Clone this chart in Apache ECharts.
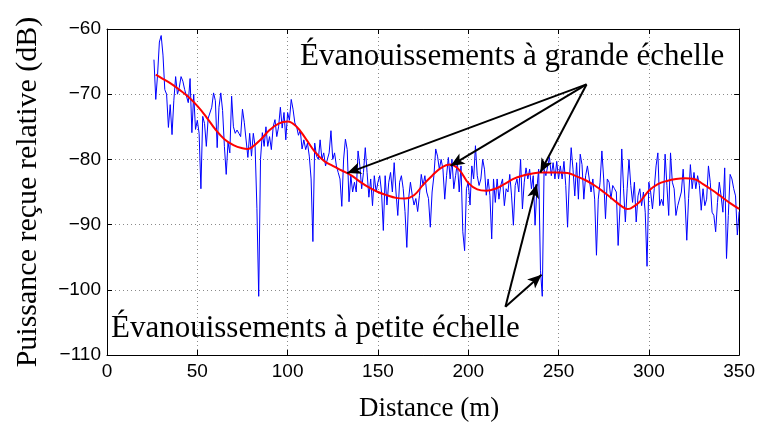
<!DOCTYPE html>
<html><head><meta charset="utf-8">
<script src="https://cdn.jsdelivr.net/npm/echarts@6/dist/echarts.min.js"></script>
<style>html,body{margin:0;padding:0;background:#fff}#c{width:758px;height:427px}</style>
</head><body><div id="c"></div>
<script>
// ---- data ----
const xTicks = [0, 50, 100, 150, 200, 250, 300, 350];
const yTicks = [-110, -100, -90, -80, -70, -60];
const blueStartDistance = 26;   // m, first sample
const blueStepDistance = 1;     // m between samples
const bluePower = [
 -64.7, -70.8, -67, -62, -61, -64, -69.3, -70, -75.1, -71.6,
 -76.2, -71, -67.3, -70, -69, -67.3, -68, -69.3, -69, -71.3,
 -67.6, -75.9, -70, -75.4, -74, -76, -84.5, -73.4, -74.5, -78,
 -73.7, -74, -72, -69.8, -71, -78.2, -72, -69.8, -72.5, -78,
 -82.3, -77.4, -79, -70.3, -75, -76, -75.5, -76, -76.5, -72.3,
 -74.3, -74, -79.7, -76, -79.5, -76, -78, -87.5, -101, -80,
 -75.9, -78, -75, -78, -76.5, -78.5, -75, -73.9, -76.5, -75,
 -72, -75.2, -72.8, -77, -72.8, -74, -70.8, -72.3, -74.4, -75,
 -76.3, -75.5, -78.4, -77, -78.5, -77.5, -79.5, -83, -92.6, -77.5,
 -79.5, -80, -77, -80, -79, -81, -80, -79, -75.6, -80,
 -79, -81, -82, -83, -87.2, -80, -76.9, -78.5, -86.5, -82.5,
 -85, -83.5, -85, -78.7, -81, -84.5, -82, -78.2, -82, -85.8,
 -83, -87.1, -82.5, -85, -83.5, -82.5, -85, -90.9, -82.5, -87,
 -83.5, -82, -85, -80.5, -85, -88.6, -83.5, -82.5, -84.5, -88,
 -93.5, -86, -83.5, -85.5, -87, -86, -88, -85.5, -82.3, -84,
 -82.5, -85, -86, -90.4, -85, -82.5, -78.4, -79.5, -81.5, -80,
 -81.5, -86.1, -82.5, -79.7, -83, -80, -84.5, -82.5, -80.5, -85,
 -81, -91.1, -94, -84.5, -83.5, -87, -81, -83, -77.9, -82.5,
 -84, -83, -80, -81.5, -85.5, -83, -85.5, -92.2, -83, -86.6,
 -83, -86.1, -84, -83, -87.1, -84.5, -85, -82.3, -85.6, -90.1,
 -84, -83, -85, -80, -87.6, -83.5, -81.3, -83, -81.5, -84.5,
 -82.5, -90.1, -84.5, -81.5, -97, -101, -81.5, -82.5, -81, -79.7,
 -82.5, -80.5, -83, -80.3, -83, -81, -83, -80.3, -84, -90.4,
 -83, -78.2, -81.5, -85.6, -80.5, -86.1, -79.2, -80.8, -86.1, -82.5,
 -81, -80.8, -85, -83, -86.1, -94.7, -86.1, -83.5, -78.7, -83,
 -89.1, -83, -83.5, -86.1, -84, -84.5, -85, -93.2, -87.6, -78.4,
 -84.5, -89.6, -84.5, -80, -84, -86.6, -83.5, -89.6, -85.6, -84.5,
 -87.1, -85, -88.1, -96.4, -83.5, -85, -87.6, -84.5, -81, -79,
 -87.1, -86.1, -87.1, -79.2, -84, -88.6, -79, -83.5, -84.5, -88.6,
 -87.1, -87, -85, -81.5, -86.1, -92.4, -86, -80.8, -84.5, -82,
 -84.5, -82.5, -84, -87.8, -84.5, -87.1, -86.1, -81, -83.5, -88.1,
 -88.6, -91.1, -86.6, -83.5, -85.6, -88.1, -81.3, -95.2, -88.6, -82.3,
 -83, -84.5, -85.6, -91.6, -88
];
const redDistance = [27, 30, 35, 40, 45, 50, 55, 60, 65, 70, 75, 78, 80, 85, 90, 95, 100, 105, 110, 115,
  120, 125, 130, 135, 140, 145, 150, 155, 160, 165, 170, 175, 180, 185, 190, 195, 200, 205, 210, 215,
  220, 225, 230, 235, 240, 250, 255, 260, 265, 270, 275, 280, 285, 288, 290, 295, 300, 305, 310, 315,
  320, 325, 330, 335, 340, 345, 350];
const redPower = [-67.0, -67.5, -68.3, -69.3, -70.4, -71.8, -73.5, -75.4, -76.9, -77.8, -78.3, -78.4, -78.2, -77.0, -75.5, -74.5, -74.2, -75.0, -76.8, -78.8,
  -80.2, -81.0, -81.7, -82.4, -83.4, -84.3, -85.0, -85.5, -85.9, -86.0, -85.5, -83.9, -82.5, -81.3, -80.8, -81.6, -83.6, -84.6, -84.8, -84.5,
  -83.8, -83.0, -82.5, -82.2, -82.0, -82.0, -82.1, -82.6, -83.2, -84.0, -85.0, -86.1, -87.2, -87.6, -87.5, -86.5, -84.8, -83.8, -83.3, -83.0,
  -82.9, -83.0, -83.8, -84.7, -85.7, -86.7, -87.6];
const largeScaleLabel = 'Évanouissements à grande échelle';
const smallScaleLabel = 'Évanouissements à petite échelle';
const xTitle = 'Distance (m)';
const yTitle = 'Puissance reçue relative (dB)';
const largeArrowFrom = [265.5, -68.5];
const largeArrowTo = [[133, -82.1], [190.2, -81.0], [239.9, -82.0]];
const smallArrowFrom = [220.6, -102.6];
const smallArrowTo = [[237.9, -83.8], [240.6, -97.7]];

// ---- build ----
const blueData = bluePower.map((v, i) => [blueStartDistance + i * blueStepDistance, v]);
const redData = redDistance.map((d, i) => [d, redPower[i]]);
const arrows = largeArrowTo.map(t => [{ coord: largeArrowFrom }, { coord: t }])
  .concat(smallArrowTo.map(t => [{ coord: smallArrowFrom }, { coord: t }]));

const minus = v => String(v).replace('-', '\u2212');
const gridLine = { show: true, lineStyle: { color: '#8a8a8a', width: 1, type: [1, 3] } };
const tickFont = { color: '#000', fontFamily: 'Liberation Sans, Arial, sans-serif', fontSize: 19 };
const serif = 'Liberation Serif, Times New Roman, serif';
const axisBase = {
  type: 'value',
  axisLine: { show: true, onZero: false, lineStyle: { color: '#000', width: 1 } },
  axisTick: { show: true, inside: true, length: 5, lineStyle: { color: '#000' } }
};

const chart = echarts.init(document.getElementById('c'), null, { renderer: 'canvas' });
chart.setOption({
  animation: false,
  backgroundColor: '#fff',
  grid: { left: 107, right: 17, top: 29, bottom: 70 },
  xAxis: [
    Object.assign({}, axisBase, {
      min: xTicks[0], max: xTicks[xTicks.length - 1], interval: 50, position: 'bottom',
      axisLabel: Object.assign({ margin: 7, formatter: minus }, tickFont),
      splitLine: gridLine,
      name: xTitle, nameLocation: 'middle', nameGap: 40,
      nameTextStyle: { color: '#000', fontFamily: serif, fontSize: 27, padding: [0, 0, 0, 12] }
    }),
    Object.assign({}, axisBase, {
      min: xTicks[0], max: xTicks[xTicks.length - 1], interval: 50, position: 'top',
      axisLabel: { show: false }, splitLine: { show: false }
    })
  ],
  yAxis: [
    Object.assign({}, axisBase, {
      min: yTicks[0], max: yTicks[yTicks.length - 1], interval: 10, position: 'left',
      axisLabel: Object.assign({ margin: 6, formatter: minus }, tickFont),
      splitLine: gridLine,
      name: yTitle, nameLocation: 'middle', nameGap: 64,
      nameTextStyle: { color: '#000', fontFamily: serif, fontSize: 30 }
    }),
    Object.assign({}, axisBase, {
      min: yTicks[0], max: yTicks[yTicks.length - 1], interval: 10, position: 'right',
      axisLabel: { show: false }, splitLine: { show: false }
    })
  ],
  series: [
    {
      type: 'line', data: blueData, showSymbol: false, symbol: 'none',
      lineStyle: { color: '#0000ff', width: 1 }, z: 2
    },
    {
      type: 'line', data: redData, showSymbol: false, symbol: 'none', smooth: 0.4,
      lineStyle: { color: '#ff0000', width: 2 }, z: 3,
      markLine: {
        silent: true, animation: false,
        symbol: ['none', 'arrow'], symbolSize: [9, 14],
        label: { show: false },
        lineStyle: { color: '#000', width: 2, type: 'solid' },
        emphasis: { disabled: true },
        data: arrows
      }
    }
  ],
  graphic: [
    { type: 'text', x: 300, y: 57, style: { text: largeScaleLabel, fill: '#000',
      font: '31px "Liberation Serif", "Times New Roman", serif', textAlign: 'left', textVerticalAlign: 'middle' }, z: 10 },
    { type: 'text', x: 111, y: 329, style: { text: smallScaleLabel, fill: '#000',
      font: '31px "Liberation Serif", "Times New Roman", serif', textAlign: 'left', textVerticalAlign: 'middle' }, z: 10 }
  ]
});
</script>
</body></html>
